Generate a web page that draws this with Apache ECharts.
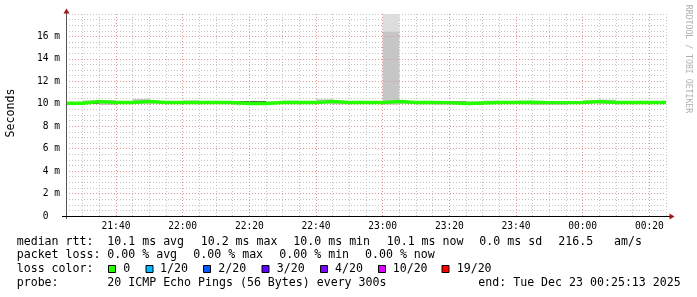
<!DOCTYPE html>
<html><head><meta charset="utf-8">
<script src="https://cdn.jsdelivr.net/npm/echarts@6/dist/echarts.min.js"></script>
<style>html,body{margin:0;padding:0;background:#fff}#c{width:697px;height:297px}</style>
</head><body><div id="c"></div>
<script>
// ---- data (ms) ----
const times = ['21:25','21:30','21:35','21:40','21:45','21:50','21:55','22:00','22:05','22:10','22:15','22:20',
  '22:25','22:30','22:35','22:40','22:45','22:50','22:55','23:00','23:05','23:10','23:15','23:20',
  '23:25','23:30','23:35','23:40','23:45','23:50','23:55','00:00','00:05','00:10','00:15','00:20'];
const endTime = '00:25';
const median = [10.05,10.2,10.12,10.12,10.2,10.12,10.12,10.12,10.12,10.12,10.03,10.03,
  10.12,10.12,10.12,10.2,10.12,10.12,10.12,10.2,10.12,10.12,10.1,10.02,
  10.07,10.12,10.12,10.14,10.1,10.1,10.12,10.2,10.12,10.12,10.12,10.12];
const smokeLo = [9.88,9.98,9.9,10.0,10.0,10.0,10.0,10.0,10.0,10.0,9.92,9.92,
  10.0,10.0,10.0,10.02,9.95,10.0,9.98,9.93,9.98,9.96,9.93,9.9,
  9.88,9.98,9.98,10.0,9.92,9.92,9.98,10.02,9.98,9.98,9.98,9.98];
const smokeHi = [10.14,10.3,10.32,10.22,10.44,10.22,10.24,10.3,10.22,10.22,10.22,10.22,
  10.22,10.28,10.22,10.4,10.26,10.22,10.24,16.45,10.24,10.22,10.22,10.2,
  10.2,10.28,10.22,10.28,10.22,10.22,10.24,10.32,10.37,10.24,10.24,10.22];
const pingMax = [10.14,10.3,10.32,10.22,10.44,10.22,10.24,10.3,10.22,10.22,10.22,10.22,
  10.22,10.28,10.22,10.4,10.26,10.22,10.24,18.0,10.24,10.22,10.22,10.2,
  10.2,10.28,10.22,10.28,10.22,10.22,10.24,10.32,10.37,10.24,10.24,10.22];
const denseLo = [null,9.99,null,null,null,null,null,null,null,null,10.16,10.16,
  null,null,null,null,null,null,null,null,null,null,null,10.13,
  9.91,null,null,null,null,null,null,null,null,null,null,null];
const denseHi = [null,10.06,null,null,null,null,null,null,null,null,10.24,10.24,
  null,null,null,null,null,null,null,null,null,null,null,10.2,
  9.97,null,null,null,null,null,null,null,null,null,null,null];
const xTickLabels = ['21:40','22:00','22:20','22:40','23:00','23:20','23:40','00:00','00:20'];
const yTickValues = [0,2,4,6,8,10,12,14,16];
const yMax = 18;
const rttStats = ['10.1 ms avg','10.2 ms max','10.0 ms min','10.1 ms now','0.0 ms sd','216.5','am/s'];
const lossStats = ['0.00 % avg','0.00 % max','0.00 % min','0.00 % now'];
const lossLevels = ['0','1/20','2/20','3/20','4/20','10/20','19/20'];
const lossColors = ['#26ff00','#00b8ff','#0059ff','#5e00ff','#7e00ff','#dd00ff','#ff0000'];
const probeText = '20 ICMP Echo Pings (56 Bytes) every 300s';
const endText = 'end: Tue Dec 23 00:25:13 2025';

// ---- helpers ----
function toSec(t){ let [h,m]=t.split(':').map(Number); if(h<12) h+=24; return (h*60+m-(21*60+25))*60; }
function fmtSec(v){ let mm = 21*60+25 + v/60; mm = mm % (24*60); const h=Math.floor(mm/60), m=Math.round(mm%60); return String(h).padStart(2,'0')+':'+String(m).padStart(2,'0'); }
const xs = times.map(toSec), xEnd = toSec(endTime);
const xNext = xs.map((x,i)=> i+1<xs.length ? xs[i+1] : xEnd);
const majorX = new Set(xTickLabels.map(toSec));
const MONO = '"DejaVu Sans Mono", monospace';

function rectSeries(name, lo, hi, color, z){
  return { type:'custom', name, z, silent:true,
    data: xs.map((x,i)=>[x, xNext[i], lo[i], hi[i]]).filter(d=>d[2]!=null && d[3]!=null && d[3]>d[2]),
    encode:{x:[0,1], y:[2,3]},
    renderItem(params, api){
      const p0 = api.coord([api.value(0), api.value(3)]);
      const p1 = api.coord([api.value(1), api.value(2)]);
      const cs = params.coordSys;
      const r = echarts.graphic.clipRectByRect({x:p0[0], y:p0[1], width:p1[0]-p0[0], height:p1[1]-p0[1]},
        {x:cs.x, y:cs.y, width:cs.width, height:cs.height});
      return r && {type:'rect', shape:r, style:{fill:color}};
    }
  };
}

const chart = echarts.init(document.getElementById('c'), null, {renderer:'canvas'});
const gridDash = [1,2];
chart.setOption({
  animation:false,
  backgroundColor:'#fff',
  grid:{left:66, right:31, top:14, bottom:81, outerBoundsMode:'none', containLabel:false},
  xAxis:{type:'value', min:0, max:xEnd, interval:300,
    axisLine:{show:false}, axisTick:{show:false},
    axisLabel:{margin:5, fontFamily:MONO, fontSize:9.6, color:'#000',
      formatter:v=> majorX.has(v) ? fmtSec(v) : ''},
    splitLine:{show:true, lineStyle:{color:'#c4c4c4', width:1, type:gridDash}}},
  yAxis:{type:'value', min:0, max:yMax, interval:0.5,
    axisLine:{show:false}, axisTick:{show:false},
    axisLabel:{margin:6, fontFamily:MONO, fontSize:9.6, color:'#000',
      formatter:v=> yTickValues.includes(v) ? (v===0 ? '0  ' : v+' m') : ''},
    splitLine:{show:true, lineStyle:{color:'#c4c4c4', width:1, type:gridDash}}},
  series:[
    { type:'line', z:1, silent:true, data:[], symbol:'none',
      markLine:{silent:true, symbol:['none','none'], label:{show:false},
        lineStyle:{color:'#e39494', width:1, type:gridDash},
        data: xTickLabels.map(t=>({xAxis:toSec(t)})).concat(yTickValues.filter(v=>v>0).map(v=>({yAxis:v})))}},
    rectSeries('peak', smokeHi, pingMax, '#dddddd', 2),
    rectSeries('smoke', smokeLo, smokeHi, '#c6c6c6', 3),
    rectSeries('dense', denseLo, denseHi, '#474747', 4),
    { type:'line', name:'median', z:5, silent:true, step:'end', symbol:'none',
      lineStyle:{color:lossColors[0], width:3.4},
      data: xs.map((x,i)=>[x, median[i]]).concat([[xEnd, median[median.length-1]]]) }
  ]
});

// ---- decorations: axes, arrows, legend text ----
const [xl, yt] = chart.convertToPixel({gridIndex:0}, [0, yMax]);
const [xr, yb] = chart.convertToPixel({gridIndex:0}, [xEnd, 0]);
const g = [];
g.push({type:'line', shape:{x1:Math.round(xl)+0.5, y1:yb+3, x2:Math.round(xl)+0.5, y2:yt-1}, style:{stroke:'#555', lineWidth:1}, z:10});
g.push({type:'line', shape:{x1:xl-4, y1:Math.round(yb)+0.5, x2:xr+4, y2:Math.round(yb)+0.5}, style:{stroke:'#000', lineWidth:1}, z:10});
g.push({type:'polygon', shape:{points:[[xl-2.5, yt-0.5],[xl+3.5, yt-0.5],[xl+0.5, yt-5.5]]}, style:{fill:'#a01818'}, z:11});
g.push({type:'polygon', shape:{points:[[xr+3.5, yb-2.5],[xr+3.5, yb+3.5],[xr+8.5, yb+0.5]]}, style:{fill:'#a01818'}, z:11});
const FONT = '11.6px ' + MONO;
function txt(s, x, y, extra){ return Object.assign({type:'text', z:10, style:{text:s, x, y, font:FONT, fill:'#000', align:'left', verticalAlign:'middle'}}, extra||{}); }
const rowY = [241.5, 255, 269, 283];
const rttX = [107.3, 200.7, 293.3, 386.7, 479.3, 558.3, 614];
const lossX = [107.3, 193.3, 279.3, 365];
const boxX = [108.5, 146, 203.5, 262, 320.5, 378.5, 442];
const lvlX = [123.3, 160, 218.3, 276.7, 335, 392.7, 456.7];
g.push(txt('median rtt:', 16.7, rowY[0]));
rttStats.forEach((s,i)=>g.push(txt(s, rttX[i], rowY[0])));
g.push(txt('packet loss:', 16.7, rowY[1]));
lossStats.forEach((s,i)=>g.push(txt(s, lossX[i], rowY[1])));
g.push(txt('loss color:', 16.7, rowY[2]));
lossLevels.forEach((s,i)=>{
  g.push({type:'rect', z:10, shape:{x:boxX[i], y:rowY[2]-3.5, width:7, height:7}, style:{fill:lossColors[i], stroke:'#000', lineWidth:1}});
  g.push(txt(s, lvlX[i], rowY[2]));
});
g.push(txt('probe:', 16.7, rowY[3]));
g.push(txt(probeText, 107.3, rowY[3]));
g.push(txt(endText, 478.3, rowY[3]));
g.push({type:'text', z:10, x:10.5, y:113, rotation:Math.PI/2,
  style:{text:'Seconds', x:0, y:0, font:FONT, fill:'#000', align:'center', verticalAlign:'middle'}});
g.push({type:'text', z:10, x:688.5, y:59, rotation:-Math.PI/2,
  style:{text:'RRDTOOL / TOBI OETIKER', x:0, y:0, font:'8.2px ' + MONO, fill:'#b0b0b0', align:'center', verticalAlign:'middle'}});
chart.setOption({graphic:g});
</script></body></html>
